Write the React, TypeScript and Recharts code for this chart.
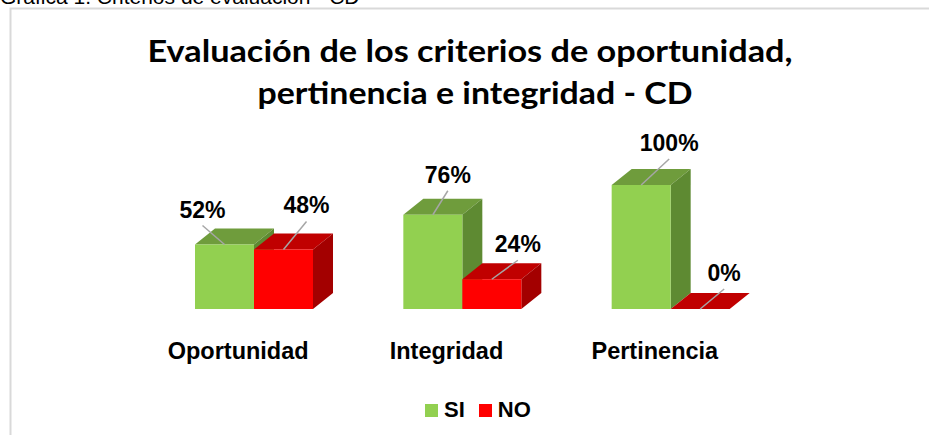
import { Bar, BarChart, LabelList, Legend, XAxis, YAxis } from "recharts";

const categories = ["Oportunidad", "Integridad", "Pertinencia"];
const siValues = [52, 76, 100];
const noValues = [48, 24, 0];
const seriesNames = ["SI", "NO"];

const data = categories.map((name, i) => ({ name, SI: siValues[i], NO: noValues[i] }));

// 3D look (Excel style box columns)
const DEPTH_X = 20;
const DEPTH_Y = 16;
const COLORS: Record<string, { front: string; top: string; side: string }> = {
  SI: { front: "#92D050", top: "#6F9C3C", side: "#5E8A32" },
  NO: { front: "#FF0000", top: "#C00000", side: "#A30000" },
};

// where each data label sits, relative to the centre of the bar's top edge
const LABEL_POS: Record<string, number[][]> = {
  SI: [[-22, -35], [15, -40], [28, -42]],
  NO: [[23, -44], [26, -35], [24, -36]],
};

const FONT = "'Liberation Sans', Arial, sans-serif";

const makeBox = (key: string) => (props: any) => {
  const { x, y, width, height } = props;
  const c = COLORS[key];
  const dx = DEPTH_X;
  const dy = DEPTH_Y;
  return (
    <g>
      <polygon
        points={`${x},${y} ${x + dx},${y - dy} ${x + width + dx},${y - dy} ${x + width},${y}`}
        fill={c.top}
      />
      <polygon
        points={`${x + width},${y} ${x + width + dx},${y - dy} ${x + width + dx},${y + height - dy} ${x + width},${y + height}`}
        fill={c.side}
      />
      {height > 0 && <rect x={x} y={y} width={width} height={height} fill={c.front} />}
    </g>
  );
};

const makeLabel = (key: string) => (p: any) => {
  const { x, y, width, value, index } = p;
  const [ox, oy] = LABEL_POS[key][index];
  const cx = Number(x) + Number(width) / 2;
  const top = Number(y);
  const lx = cx + ox;
  const ly = top + oy;
  return (
    <g>
      <line x1={lx} y1={ly + 16} x2={cx} y2={top} stroke="#A6A6A6" strokeWidth={1.5} />
      <text
        x={lx}
        y={ly}
        textAnchor="middle"
        dominantBaseline="central"
        fontFamily={FONT}
        fontWeight={700}
        fontSize={23}
        fill="#000"
      >
        {value}%
      </text>
    </g>
  );
};

const CategoryTick = (p: any) => {
  const { x, y, payload } = p;
  return (
    <text
      x={x - 16}
      y={y + 42}
      textAnchor="middle"
      fontFamily={FONT}
      fontWeight={700}
      fontSize={23.5}
      fill="#000"
    >
      {payload.value}
    </text>
  );
};

const renderLegend = () => (
  <div
    style={{
      display: "flex",
      alignItems: "center",
      height: 26,
      paddingLeft: 425,
      fontFamily: FONT,
      fontWeight: 700,
      fontSize: 22,
      color: "#000",
    }}
  >
    {seriesNames.map((s, i) => (
      <div key={s} style={{ display: "flex", alignItems: "center", marginLeft: i ? 14 : 0 }}>
        <div style={{ width: 13, height: 13, background: COLORS[s].front, marginRight: 6 }} />
        <span>{s}</span>
      </div>
    ))}
  </div>
);

export default function App() {
  return (
    <div style={{ position: "absolute", left: 0, top: 0, width: 929, height: 435, background: "#fff", overflow: "hidden" }}>
      <svg width={929} height={435} style={{ position: "absolute", left: 0, top: 0 }}>
        <text x={0} y={4} fontFamily={FONT} fontSize={21} fill="#000">
          Gráfica 1. Criterios de evaluación - CD
        </text>
        <path d="M10.5,435 L10.5,8.5 L929,8.5" fill="none" stroke="#D9D9D9" strokeWidth={2} />
        <text
          x={470}
          y={62}
          textAnchor="middle"
          fontFamily="Lato, 'Open Sans', sans-serif"
          fontWeight={700}
          fontSize={31}
          textLength={645}
          lengthAdjust="spacingAndGlyphs"
          fill="#000"
        >
          Evaluación de los criterios de oportunidad,
        </text>
        <text
          x={475}
          y={104}
          textAnchor="middle"
          fontFamily="Lato, 'Open Sans', sans-serif"
          fontWeight={700}
          fontSize={31}
          textLength={435}
          lengthAdjust="spacingAndGlyphs"
          fill="#000"
        >
          pertinencia e integridad - CD
        </text>
      </svg>
      <div style={{ position: "absolute", left: 0, top: 0 }}>
        <BarChart
          width={929}
          height={435}
          data={data}
          margin={{ top: 185, right: 154, bottom: 12, left: 150 }}
          barGap={0}
          barSize={59}
        >
          <XAxis dataKey="name" axisLine={false} tickLine={false} height={88} tick={<CategoryTick />} interval={0} />
          <YAxis hide domain={[0, 100]} />
          <Legend
            verticalAlign="bottom"
            content={renderLegend}
            wrapperStyle={{ left: 0, width: 929 }}
          />
          {seriesNames.map((s) => (
            <Bar key={s} dataKey={s} isAnimationActive={false} shape={makeBox(s)}>
              <LabelList dataKey={s} content={makeLabel(s)} />
            </Bar>
          ))}
        </BarChart>
      </div>
    </div>
  );
}
